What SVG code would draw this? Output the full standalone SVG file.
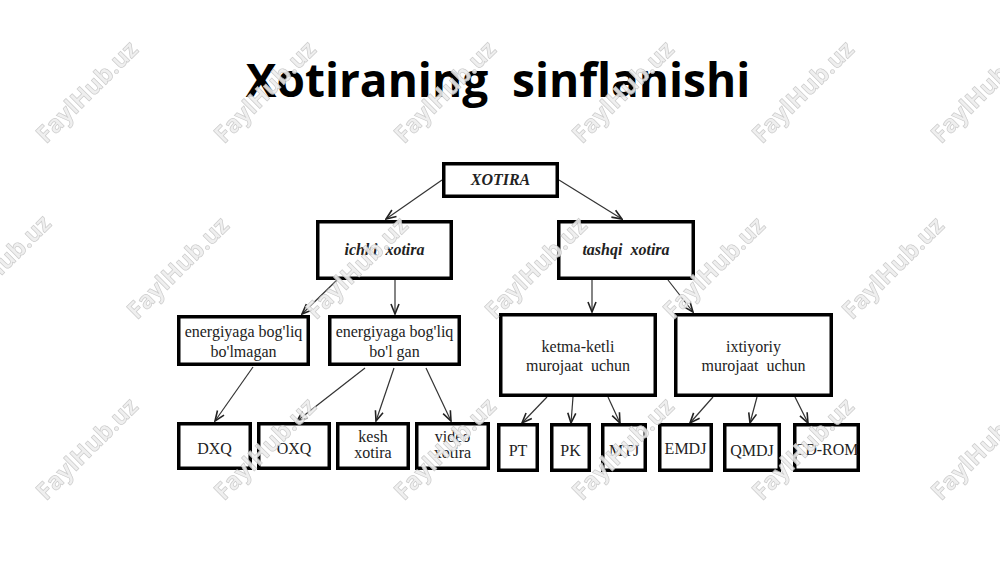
<svg xmlns="http://www.w3.org/2000/svg" width="1000" height="562" viewBox="0 0 1000 562">
<style>
.wm{font-family:"Open Sans","Liberation Sans",sans-serif;font-weight:bold;font-size:24px;fill:#eeeeee;stroke:#c6c6c6;stroke-width:0.7;text-anchor:middle}
.title{font-family:"Open Sans","Noto Sans","Liberation Sans",sans-serif;font-weight:bold;font-size:46px;fill:#000;text-anchor:middle}
.box{fill:#fff;stroke:#000;stroke-width:3.5}
.t{font-family:"Liberation Serif","DejaVu Serif",serif;font-size:16px;fill:#222;text-anchor:middle}
.bi{font-weight:bold;font-style:italic}
.edge{stroke:#333;stroke-width:1.2;fill:none;marker-end:url(#arr)}
</style>
<defs>
<marker id="arr" markerUnits="userSpaceOnUse" markerWidth="12" markerHeight="12" refX="11" refY="6" orient="auto">
<path d="M1,2 L11,6 L1,10" fill="none" stroke="#222" stroke-width="1.6"/>
</marker>
</defs>
<rect width="1000" height="562" fill="#fff"/>
<text class="title" x="498" y="97" xml:space="preserve">Xotiraning  sinflanishi</text>
<g id="connectors">
<line class="edge" x1="442" y1="180" x2="386" y2="219"/>
<line class="edge" x1="559" y1="180" x2="622" y2="219"/>
<line class="edge" x1="337" y1="280" x2="302" y2="314"/>
<line class="edge" x1="395" y1="280" x2="395" y2="314"/>
<line class="edge" x1="592" y1="280" x2="592" y2="312"/>
<line class="edge" x1="668" y1="280" x2="693" y2="312"/>
<line class="edge" x1="253" y1="367" x2="215" y2="421"/>
<line class="edge" x1="365" y1="368" x2="297" y2="421"/>
<line class="edge" x1="394" y1="368" x2="376" y2="421"/>
<line class="edge" x1="426" y1="368" x2="451" y2="421"/>
<line class="edge" x1="547" y1="397" x2="522" y2="423"/>
<line class="edge" x1="573" y1="397" x2="571" y2="423"/>
<line class="edge" x1="608" y1="397" x2="620" y2="423"/>
<line class="edge" x1="713" y1="397" x2="690" y2="423"/>
<line class="edge" x1="757" y1="397" x2="750" y2="423"/>
<line class="edge" x1="795" y1="397" x2="808" y2="423"/>
</g>
<g id="n-xotira"><rect class="box" x="443.75" y="163.75" width="113.5" height="32.5"/><text class="t bi" x="500.5" y="185" font-size="17">XOTIRA</text></g>
<g id="n-ichki"><rect class="box" x="317.75" y="221.75" width="133.5" height="56.5"/><text class="t bi" x="384.5" y="255" xml:space="preserve">ichki  xotira</text></g>
<g id="n-tashqi"><rect class="box" x="558.75" y="221.75" width="134.5" height="56.5"/><text class="t bi" x="626" y="255" xml:space="preserve">tashqi  xotira</text></g>
<g id="n-energ1"><rect class="box" x="178.75" y="316.75" width="129.5" height="47.5"/><text class="t" x="243.5" y="337">energiyaga bog'liq</text><text class="t" x="243.5" y="357">bo'lmagan</text></g>
<g id="n-energ2"><rect class="box" x="329.75" y="316.75" width="129.5" height="47.5"/><text class="t" x="394.5" y="337">energiyaga bog'liq</text><text class="t" x="394.5" y="357">bo'l gan</text></g>
<g id="n-ketma"><rect class="box" x="500.75" y="314.75" width="154.5" height="80.5"/><text class="t" x="578" y="352">ketma-ketli</text><text class="t" x="578" y="371" xml:space="preserve">murojaat  uchun</text></g>
<g id="n-ixtiyoriy"><rect class="box" x="675.75" y="314.75" width="155.5" height="80.5"/><text class="t" x="753.5" y="352">ixtiyoriy</text><text class="t" x="753.5" y="371" xml:space="preserve">murojaat  uchun</text></g>
<g id="n-dxq"><rect class="box" x="178.75" y="423.75" width="71.5" height="44.5"/><text class="t" x="214.5" y="454">DXQ</text></g>
<g id="n-oxq"><rect class="box" x="258.75" y="423.75" width="70.5" height="44.5"/><text class="t" x="294" y="454">OXQ</text></g>
<g id="n-kesh"><rect class="box" x="337.75" y="423.75" width="70.5" height="44.5"/><text class="t" x="373" y="442">kesh</text><text class="t" x="373" y="458">xotira</text></g>
<g id="n-video"><rect class="box" x="416.75" y="423.75" width="71.5" height="44.5"/><text class="t" x="452.5" y="442">video</text><text class="t" x="452.5" y="458">xotira</text></g>
<g id="n-pt"><rect class="box" x="498.75" y="424.75" width="38.5" height="45.5"/><text class="t" x="518" y="456">PT</text></g>
<g id="n-pk"><rect class="box" x="551.75" y="424.75" width="37.5" height="45.5"/><text class="t" x="570.5" y="456">PK</text></g>
<g id="n-mtj"><rect class="box" x="602.75" y="424.75" width="42.5" height="45.5"/><text class="t" x="624" y="456">MTJ</text></g>
<g id="n-emdj"><rect class="box" x="659.75" y="424.75" width="51.5" height="45.5"/><text class="t" x="685.5" y="454">EMDJ</text></g>
<g id="n-qmdj"><rect class="box" x="724.75" y="424.75" width="54.5" height="45.5"/><text class="t" x="752" y="456">QMDJ</text></g>
<g id="n-cdrom"><rect class="box" x="794.75" y="424.75" width="63.5" height="45.5"/><text class="t" x="826.5" y="455">CD-ROM</text></g>
<g id="watermarks" opacity="0.9">
<text class="wm" transform="translate(87,92) rotate(-45)" y="8">FaylHub.uz</text>
<text class="wm" transform="translate(265,92) rotate(-45)" y="8">FaylHub.uz</text>
<text class="wm" transform="translate(445,92) rotate(-45)" y="8">FaylHub.uz</text>
<text class="wm" transform="translate(623,92) rotate(-45)" y="8">FaylHub.uz</text>
<text class="wm" transform="translate(803,92) rotate(-45)" y="8">FaylHub.uz</text>
<text class="wm" transform="translate(982,92) rotate(-45)" y="8">FaylHub.uz</text>
<text class="wm" transform="translate(0,266) rotate(-45)" y="8">FaylHub.uz</text>
<text class="wm" transform="translate(178,268) rotate(-45)" y="8">FaylHub.uz</text>
<text class="wm" transform="translate(357,268) rotate(-45)" y="8">FaylHub.uz</text>
<text class="wm" transform="translate(536,268) rotate(-45)" y="8">FaylHub.uz</text>
<text class="wm" transform="translate(714,268) rotate(-45)" y="8">FaylHub.uz</text>
<text class="wm" transform="translate(893,268) rotate(-45)" y="8">FaylHub.uz</text>
<text class="wm" transform="translate(87,449) rotate(-45)" y="8">FaylHub.uz</text>
<text class="wm" transform="translate(265,449) rotate(-45)" y="8">FaylHub.uz</text>
<text class="wm" transform="translate(445,449) rotate(-45)" y="8">FaylHub.uz</text>
<text class="wm" transform="translate(623,449) rotate(-45)" y="8">FaylHub.uz</text>
<text class="wm" transform="translate(803,449) rotate(-45)" y="8">FaylHub.uz</text>
<text class="wm" transform="translate(982,449) rotate(-45)" y="8">FaylHub.uz</text>
</g>
</svg>
